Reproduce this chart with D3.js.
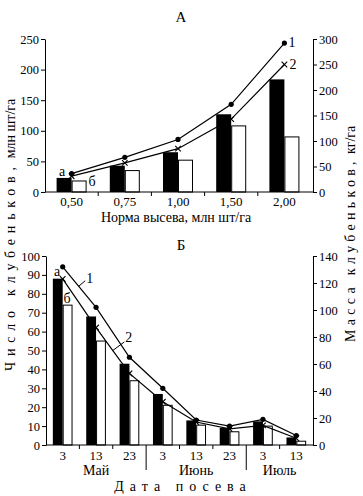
<!DOCTYPE html>
<html><head><meta charset="utf-8">
<script src="https://cdn.jsdelivr.net/npm/d3@7/dist/d3.min.js"></script>
<style>
.axis path,.axis line{stroke:#000;stroke-width:1;}
</style></head><body style="margin:0;background:#fff">
<svg id="c" width="363" height="496"></svg>
<script>
// ---- Chart A data ----
const seedRates = ["0,50","0,75","1,00","1,50","2,00"];
const countA_a = [23, 43, 65, 127, 184];
const countA_b = [18, 35, 52, 108, 90];
const massA_1 = [36, 68, 103, 172, 292];
const massA_2 = [31, 57, 85, 143, 250];
const ticksA_left = [0, 50, 100, 150, 200, 250];
const ticksA_right = [0, 50, 100, 150, 200, 250, 300];

// ---- Chart B data ----
const sowDates = ["3.05","13.05","23.05","3.06","13.06","23.06","3.07","13.07"];
const dayLabels = ["3","13","23","3","13","23","3","13"];
const monthNames = ["Май","Июнь","Июль"];
const monthSpans = [3, 3, 2];
const countB_a = [88, 68, 43, 27, 13, 9, 12.5, 4];
const countB_b = [74, 55, 34, 21, 10.5, 7, 10, 2];
const massB_1 = [132, 102, 65, 42, 18.5, 14, 19, 7];
const massB_2 = [123, 87, 53, 32, 17, 12, 14.5, 5];
const ticksB_left = [0,10,20,30,40,50,60,70,80,90,100];
const ticksB_right = [0,20,40,60,80,100,120,140];

const FONT = "Liberation Serif";
const svg = d3.select("#c");

function txt(x, y, s, size, anchor){
  return svg.append("text").attr("x",x).attr("y",y).style("font-family",FONT)
    .style("font-size",size+"px").attr("text-anchor",anchor||"middle").attr("fill","#000").text(s);
}

function drawPanel(cfg){
  const g = svg.append("g");
  const x = d3.scaleBand().domain(cfg.cats).range([cfg.x0, cfg.x1]).padding(0);
  const yL = d3.scaleLinear().domain(cfg.leftDom).range([cfg.yb, cfg.yt]);
  const yR = d3.scaleLinear().domain(cfg.rightDom).range([cfg.yb, cfg.yt]);
  const bw = x.bandwidth()*cfg.barFrac;
  const cx = d => x(d) + x.bandwidth()/2;

  g.selectAll(".ba").data(cfg.cats).join("rect")
    .attr("x", d => cx(d)-bw).attr("width", bw)
    .attr("y", (d,i) => yL(cfg.a[i])).attr("height", (d,i) => yL(0)-yL(cfg.a[i]))
    .attr("fill","#000");
  g.selectAll(".bb").data(cfg.cats).join("rect")
    .attr("x", d => cx(d)+0.5).attr("width", bw-1)
    .attr("y", (d,i) => yL(cfg.b[i])).attr("height", (d,i) => yL(0)-yL(cfg.b[i]))
    .attr("fill","#fff").attr("stroke","#000").attr("stroke-width",1);

  const ax1 = g.append("g").attr("class","axis").attr("transform",`translate(${cfg.x0},0)`)
    .call(d3.axisLeft(yL).tickValues(cfg.ticksL).tickSize(4).tickSizeOuter(0).tickPadding(2).tickFormat(d3.format("d")));
  const ax2 = g.append("g").attr("class","axis").attr("transform",`translate(${cfg.xr},0)`)
    .call(d3.axisRight(yR).tickValues(cfg.ticksR).tickSize(4).tickSizeOuter(0).tickPadding(2).tickFormat(d3.format("d")));
  [ax1, ax2].forEach(a => a.selectAll("text").style("font-family",FONT).style("font-size","12.5px").attr("fill","#000"));
  g.append("line").attr("x1",cfg.x0).attr("x2",cfg.xr).attr("y1",yL(0)).attr("y2",yL(0)).attr("stroke","#000");
  g.selectAll(".bt").data(cfg.cats.slice(1)).join("line")
    .attr("x1", d => x(d)).attr("x2", d => x(d))
    .attr("y1", yL(0)).attr("y2", (d,i) => cfg.longTicks && cfg.longTicks.includes(i+1) ? cfg.longY : yL(0)+4)
    .attr("stroke","#000");
  g.selectAll(".tl").data(cfg.cats).join("text")
    .attr("x", d => cx(d)).attr("y", cfg.tickLabY).attr("text-anchor","middle")
    .style("font-family",FONT).style("font-size","13px").text((d,i) => cfg.labels[i]);

  const line = (vals) => d3.line().x((d,i)=>cx(cfg.cats[i])).y(d=>yR(d))(vals);
  g.append("path").attr("d", line(cfg.m1)).attr("fill","none").attr("stroke","#000").attr("stroke-width",1.2);
  g.append("path").attr("d", line(cfg.m2)).attr("fill","none").attr("stroke","#000").attr("stroke-width",1.2);
  g.selectAll(".dot").data(cfg.m1).join("circle")
    .attr("cx",(d,i)=>cx(cfg.cats[i])).attr("cy",d=>yR(d)).attr("r",2.6).attr("fill","#000");
  const s = 2.8;
  g.selectAll(".xm").data(cfg.m2).join("path")
    .attr("d",(d,i)=>{const px=cx(cfg.cats[i]), py=yR(d);
      return `M${px-s},${py-s}L${px+s},${py+s}M${px-s},${py+s}L${px+s},${py-s}`;})
    .attr("stroke","#000").attr("stroke-width",1.1).attr("fill","none");
  return {x, yL, yR, cx, g};
}

// ---- Panel A ----
const A = drawPanel({cats: seedRates, labels: seedRates, x0:45, x1:311, xr:313, yb:192, yt:39,
  leftDom:[0,250], rightDom:[0,300], ticksL: ticksA_left, ticksR: ticksA_right,
  a: countA_a, b: countA_b, m1: massA_1, m2: massA_2, barFrac:0.282, tickLabY:206});
txt(181,22,"А",15);
txt(176,222,"Норма высева, млн шт/га",14);
txt(62,176,"а",14);
txt(92,186,"б",14);
{
  const last = seedRates.length-1;
  txt(A.cx(seedRates[last])+4, A.yR(massA_1[last])+3.5, "1", 14, "start");
  txt(A.cx(seedRates[last])+5, A.yR(massA_2[last])+4.5, "2", 14, "start");
}

// ---- Panel B ----
const B = drawPanel({cats: sowDates, labels: dayLabels, x0:46, x1:313, xr:313, yb:445, yt:256,
  leftDom:[0,100], rightDom:[0,140], ticksL: ticksB_left, ticksR: ticksB_right,
  a: countB_a, b: countB_b, m1: massB_1, m2: massB_2, barFrac:0.295, tickLabY:460,
  longTicks:[3,6], longY:470});
txt(181,250,"Б",15);
{
  let start = 0;
  monthNames.forEach((m,k)=>{
    const first = sowDates[start], lastD = sowDates[start+monthSpans[k]-1];
    const xa = B.x(first), xb = (k===monthNames.length-1) ? 313 : B.x(lastD)+B.x.bandwidth();
    txt((xa+xb)/2, 475, m, 14);
    start += monthSpans[k];
  });
}
txt(183,491,"Дата посева",14).style("letter-spacing","6px");
txt(57,276,"а",14);
txt(67,303,"б",14);
{
  const t1 = 0.48;
  const lx = B.cx(sowDates[0]) + t1*(B.cx(sowDates[1])-B.cx(sowDates[0]));
  const ly = B.yR(massB_1[0]) + t1*(B.yR(massB_1[1])-B.yR(massB_1[0]));
  svg.append("line").attr("x1",lx).attr("y1",ly).attr("x2",lx+6.5).attr("y2",ly-5.5).attr("stroke","#000");
  txt(lx+7.5, ly-3, "1", 14, "start");
  const t2 = 0.5;
  const mx = B.cx(sowDates[1]) + t2*(B.cx(sowDates[2])-B.cx(sowDates[1]));
  const my = B.yR(massB_2[1]) + t2*(B.yR(massB_2[2])-B.yR(massB_2[1]));
  svg.append("line").attr("x1",mx).attr("y1",my).attr("x2",mx+11.5).attr("y2",my-8.5).attr("stroke","#000");
  txt(mx+12.5, my-9, "2", 14, "start");
}

// ---- shared axis titles ----
{
  const t = svg.append("text").attr("transform","translate(15,371) rotate(-90)")
    .style("font-family",FONT).style("font-size","14px");
  t.append("tspan").style("letter-spacing","5.8px").text("Число клубеньков,");
  t.append("tspan").attr("dx",3).text("млн шт/га");
  const r = svg.append("text").attr("transform","translate(355,342) rotate(-90)")
    .style("font-family",FONT).style("font-size","14px");
  r.append("tspan").style("letter-spacing","4.3px").text("Масса клубеньков,");
  r.append("tspan").attr("dx",3).text("кг/га");
}
</script></body></html>
